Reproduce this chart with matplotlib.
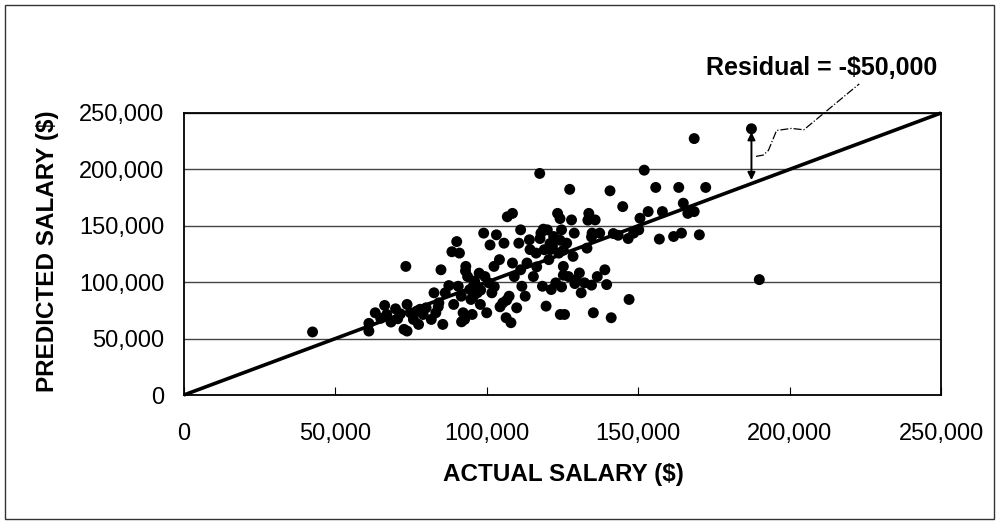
import numpy as np
import matplotlib.pyplot as plt
from matplotlib.patches import Rectangle
from matplotlib.ticker import FuncFormatter

plt.rcParams['font.family'] = ['Liberation Sans', 'DejaVu Sans']

# salarios reales (eje x) y predichos (eje y)
actual_salary = [
    42500, 61100, 61100, 63200, 65000, 66300, 67000, 68400, 69900, 70600,
    71500, 72700, 73700, 73300, 73700, 74800, 75800, 76900, 77500, 78000,
    79000, 80000, 81700, 82600, 83200, 84000, 84200, 84900, 85500, 86300,
    87500, 88500, 89100, 90100, 90600, 91000, 91600, 91700, 92200, 92700,
    93000, 93100, 93700, 94400, 94800, 95200, 95500, 95800, 96000, 96900,
    97500, 97900, 98000, 99000, 99400, 100000, 100700, 101100, 101700, 102400,
    102500, 103200, 104200, 104400, 105300, 105700, 106400, 106600, 106800, 107400,
    108000, 108500, 108500, 109100, 109900, 110600, 111200, 111200, 111600, 112700,
    113300, 114100, 114300, 115400, 116300, 116500, 117500, 117600, 117900, 118400,
    118700, 119000, 119600, 120000, 120500, 120900, 121000, 121300, 121700, 122100,
    122800, 123400, 123800, 124200, 124200, 124300, 124700, 124700, 125300, 125300,
    125300, 125700, 126400, 127000, 127400, 128000, 128500, 128900, 129100, 129500,
    130600, 131200, 132300, 133100, 133400, 133700, 134600, 134600, 134800, 135200,
    135800, 136500, 137300, 139000, 139600, 140700, 141100, 141800, 143400, 144900,
    146700, 147000, 148500, 150200, 150600, 152000, 153300, 155800, 157000, 158000,
    161700, 163400, 164300, 164900, 166400, 168500, 168500, 170200, 172300, 187400,
    190000,
]
predicted_salary = [
    55900, 63500, 56700, 72900, 68000, 79400, 71400, 64700, 76400, 67600,
    72000, 58200, 56700, 114000, 80300, 72900, 67000, 74400, 62600, 76000,
    71400, 77300, 67000, 90600, 72900, 78200, 81700, 111000, 62600, 90600,
    97000, 127000, 80300, 136000, 96400, 125800, 87600, 64900, 72900, 67000,
    110000, 114000, 105000, 93500, 84700, 71400, 87000, 97900, 101000, 90600,
    108000, 80300, 93000, 143500, 105000, 72900, 99400, 133000, 90600, 114000,
    96000, 142000, 120000, 78200, 81700, 134600, 68500, 84100, 158000, 87600,
    64100, 161000, 117000, 105000, 77300, 134600, 146400, 111000, 96400, 87600,
    117000, 137600, 128900, 105000, 125800, 113600, 196400, 138700, 143500, 96400,
    147000, 128800, 78800, 146400, 120000, 134300, 128900, 93500, 131700, 140500,
    99400, 161000, 125800, 156400, 137200, 71400, 146400, 95800, 114000, 128300,
    106200, 71400, 134600, 105000, 182300, 155200, 122900, 143500, 98800, 102300,
    108200, 90600, 99400, 130200, 155000, 161000, 140100, 97400, 143500, 72900,
    155200, 105000, 143500, 111000, 97900, 181000, 68500, 143100, 141600, 167000,
    138700, 84700, 143500, 146400, 156700, 199300, 162600, 184000, 138200, 162600,
    140500, 184000, 143500, 170000, 161000, 227300, 162600, 142000, 184000, 236000,
    102300,
]

ticks = [0, 50000, 100000, 150000, 200000, 250000]

# punto del residuo y recta de prediccion perfecta
resid_x = 187400
resid_y = 233000
resid_base = 190500
leader_x = [188900, 191300, 193000, 195700, 200600, 204700, 223000]
leader_y = [211500, 212700, 216800, 234500, 236300, 235100, 275800]

fig = plt.figure(figsize=(9.99, 5.23), dpi=100)
fig.patches.append(Rectangle((0.005, 0.008), 0.99, 0.983, transform=fig.transFigure,
                             fill=False, edgecolor='#333333', linewidth=1.0))

ax = fig.add_axes([0.184, 0.2447, 0.758, 0.5393])
ax.set_xlim(0, 250000)
ax.set_ylim(0, 250000)

ax.yaxis.grid(True, color='#444444', linewidth=1.0)
ax.set_axisbelow(True)

ax.plot([0, 250000], [0, 250000], color='black', linewidth=2.6,
        solid_capstyle='butt', clip_on=False, zorder=2)
ax.scatter(actual_salary, predicted_salary, s=62, color='black',
           edgecolors='none', zorder=3, clip_on=False)

ax.annotate('', xy=(resid_x, resid_y), xytext=(resid_x, resid_base),
            arrowprops=dict(arrowstyle='<|-|>', color='black', lw=1.4,
                            mutation_scale=11, shrinkA=0, shrinkB=0), zorder=4)
ax.plot(leader_x, leader_y, color='black', linewidth=0.9, linestyle='-.',
        clip_on=False, zorder=4)

fmt = FuncFormatter(lambda v, p: f'{int(v):,}')
ax.set_xticks(ticks)
ax.set_yticks(ticks)
ax.xaxis.set_major_formatter(fmt)
ax.yaxis.set_major_formatter(fmt)
ax.tick_params(axis='x', direction='in', length=6, width=0.8, pad=20, labelsize=17)
ax.tick_params(axis='y', length=0, pad=14, labelsize=17)

for s in ax.spines.values():
    s.set_linewidth(1.3)
    s.set_color('black')

fig.text(0.5636, 1 - 474 / 523, 'ACTUAL SALARY ($)', ha='center', va='center',
         fontsize=17.5, fontweight='bold')
fig.text(0.048, 0.52, 'PREDICTED SALARY ($)', ha='center', va='center',
         rotation=90, fontsize=17.5, fontweight='bold')
fig.text(0.822, 0.870, 'Residual = -$50,000', ha='center', va='center',
         fontsize=18, fontweight='bold')

fig.savefig('out.png', dpi=100)
